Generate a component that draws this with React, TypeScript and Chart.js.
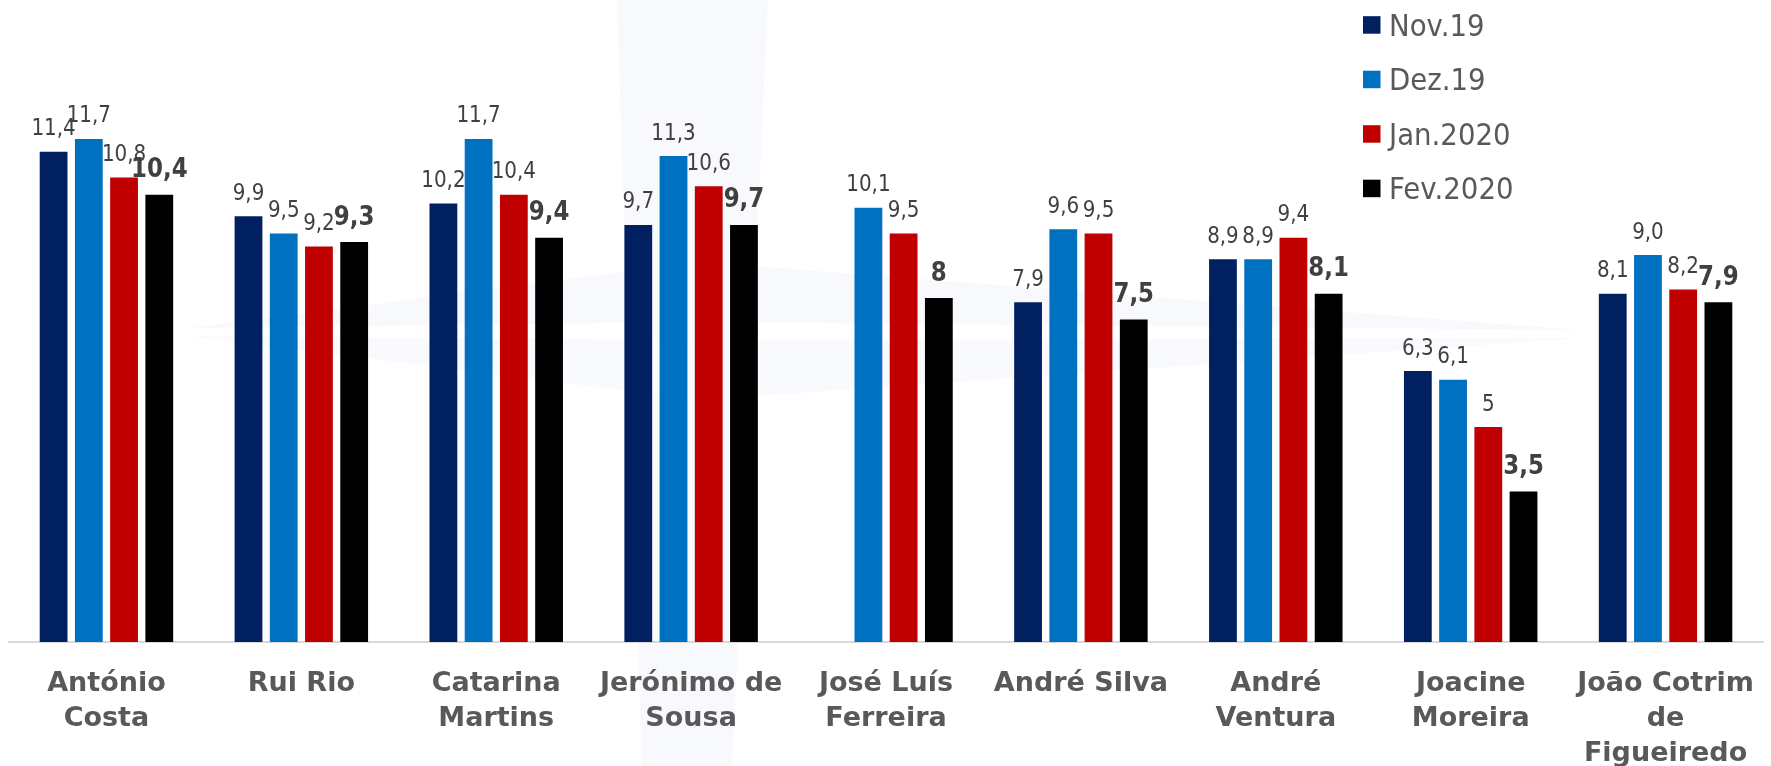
import React, { useEffect, useRef } from "react";
import { Chart, registerables } from "chart.js";

Chart.register(...registerables);

// ---- data ----
const categories: string[][] = [
  ["António", "Costa"],
  ["Rui Rio"],
  ["Catarina", "Martins"],
  ["Jerónimo de", "Sousa"],
  ["José Luís", "Ferreira"],
  ["André Silva"],
  ["André", "Ventura"],
  ["Joacine", "Moreira"],
  ["João Cotrim", "de", "Figueiredo"],
];
const seriesNames = ["Nov.19", "Dez.19", "Jan.2020", "Fev.2020"];
const nov19 = ["11,4", "9,9", "10,2", "9,7", "", "7,9", "8,9", "6,3", "8,1"];
const dez19 = ["11,7", "9,5", "11,7", "11,3", "10,1", "9,6", "8,9", "6,1", "9,0"];
const jan2020 = ["10,8", "9,2", "10,4", "10,6", "9,5", "9,5", "9,4", "5", "8,2"];
const fev2020 = ["10,4", "9,3", "9,4", "9,7", "8", "7,5", "8,1", "3,5", "7,9"];
const yMin = 0;
const yMax = 14;

// ---- styles ----
const seriesColors = ["#002060", "#0070C0", "#C00000", "#000000"];
const boldSeries = [false, false, false, true];
const seriesLabels = [nov19, dez19, jan2020, fev2020];

const toNumber = (s: string) => (s === "" ? null : Number(s.replace(",", ".")));

function drawScaledText(
  ctx: CanvasRenderingContext2D,
  text: string,
  x: number,
  y: number,
  font: string,
  sx: number,
  align: CanvasTextAlign
) {
  ctx.save();
  ctx.translate(x, y);
  ctx.scale(sx, 1);
  ctx.font = font;
  ctx.textAlign = align;
  ctx.textBaseline = "alphabetic";
  ctx.fillText(text, 0, 0);
  ctx.restore();
}

const watermarkPlugin = {
  id: "watermark",
  beforeDraw(chart: any) {
    const ctx = chart.ctx as CanvasRenderingContext2D;
    ctx.save();
    ctx.fillStyle = "#f7f9fc";
    // vertical arm
    ctx.beginPath();
    ctx.moveTo(617, 0);
    ctx.lineTo(768, 0);
    ctx.lineTo(732, 766);
    ctx.lineTo(642, 766);
    ctx.closePath();
    ctx.fill();
    // horizontal arm (upper half)
    ctx.beginPath();
    ctx.moveTo(190, 328);
    ctx.lineTo(700, 262);
    ctx.lineTo(1580, 330);
    ctx.lineTo(700, 322);
    ctx.closePath();
    ctx.fill();
    // horizontal arm (lower half)
    ctx.fillStyle = "#f8fafd";
    ctx.beginPath();
    ctx.moveTo(190, 336);
    ctx.lineTo(700, 340);
    ctx.lineTo(1580, 338);
    ctx.lineTo(700, 400);
    ctx.closePath();
    ctx.fill();
    ctx.restore();
  },
};

const valueLabelPlugin = {
  id: "valueLabels",
  afterDatasetsDraw(chart: any) {
    const ctx = chart.ctx as CanvasRenderingContext2D;
    ctx.save();
    ctx.fillStyle = "#404040";
    chart.data.datasets.forEach((ds: any, i: number) => {
      const meta = chart.getDatasetMeta(i);
      meta.data.forEach((bar: any, j: number) => {
        const txt = seriesLabels[i][j];
        if (!txt || ds.data[j] == null) return;
        if (boldSeries[i]) {
          drawScaledText(ctx, txt, bar.x, bar.y - 17.5, "bold 27px 'DejaVu Sans'", 0.85, "center");
        } else {
          drawScaledText(ctx, txt, bar.x, bar.y - 16.5, "23px 'DejaVu Sans'", 0.865, "center");
        }
      });
    });
    ctx.restore();
  },
};

const legendPlugin = {
  id: "sideLegend",
  afterDraw(chart: any) {
    const ctx = chart.ctx as CanvasRenderingContext2D;
    ctx.save();
    chart.data.datasets.forEach((ds: any, i: number) => {
      const cy = 24.7 + i * 54.5;
      ctx.fillStyle = ds.backgroundColor;
      ctx.fillRect(1363, cy - 8.5, 17.5, 17.5);
      ctx.fillStyle = "#595959";
      drawScaledText(ctx, ds.label, 1389, cy + 11, "30px 'DejaVu Sans'", 0.92, "left");
    });
    ctx.restore();
  },
};

export default function App() {
  const canvasRef = useRef<HTMLCanvasElement | null>(null);

  useEffect(() => {
    if (!canvasRef.current) return;
    const chart = new Chart(canvasRef.current, {
      type: "bar",
      data: {
        labels: categories,
        datasets: seriesNames.map((name, i) => ({
          label: name,
          data: seriesLabels[i].map(toNumber),
          backgroundColor: seriesColors[i],
          borderWidth: 0,
          categoryPercentage: 0.723,
          barPercentage: 0.789,
        })),
      },
      options: {
        animation: false,
        responsive: false,
        maintainAspectRatio: false,
        layout: { padding: { top: 40, left: 9, right: 1, bottom: 0 } },
        plugins: {
          legend: { display: false },
          tooltip: { enabled: false },
          title: { display: false },
        },
        scales: {
          x: {
            grid: { display: false, drawTicks: false },
            border: { display: true, color: "#d9d9d9", width: 2 },
            ticks: {
              color: "#595959",
              autoSkip: false,
              maxRotation: 0,
              minRotation: 0,
              padding: 24,
              font: { family: "'DejaVu Sans'", weight: "bold", size: 27, lineHeight: "35px" },
            },
          },
          y: { display: false, min: yMin, max: yMax },
        },
      } as any,
      plugins: [watermarkPlugin, valueLabelPlugin, legendPlugin],
    });
    return () => chart.destroy();
  }, []);

  return (
    <div style={{ position: "fixed", left: 0, top: 0, width: 1778, height: 795, background: "#ffffff" }}>
      <canvas ref={canvasRef} width={1778} height={795} style={{ width: 1778, height: 795, display: "block" }} />
    </div>
  );
}
